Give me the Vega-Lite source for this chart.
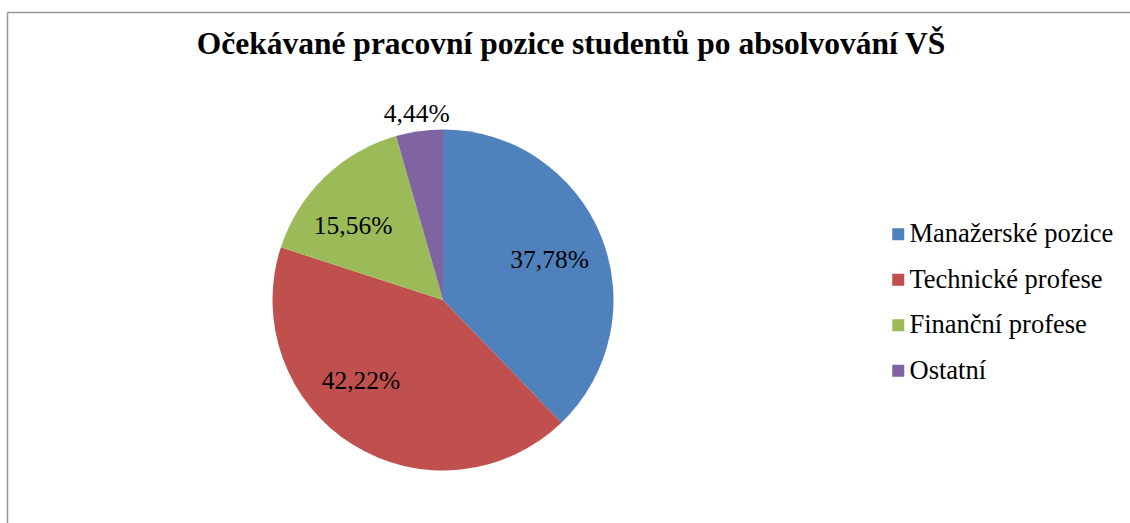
{
  "$schema": "https://vega.github.io/schema/vega-lite/v6.json",
  "autosize": {"type": "none"},
  "padding": {"left": 7, "top": 12, "right": 251, "bottom": -65},
  "width": 872,
  "height": 576,
  "background": "white",
  "title": {
    "text": "Očekávané pracovní pozice studentů po absolvování VŠ",
    "font": "Liberation Serif",
    "fontSize": 31.5,
    "fontWeight": "bold",
    "color": "black",
    "anchor": "middle",
    "baseline": "alphabetic",
    "offset": 0,
    "dx": 128,
    "dy": 76
  },
  "data": {
    "values": [
      {"pozice": "Manažerské pozice", "podil": 0.3778},
      {"pozice": "Technické profese", "podil": 0.4222},
      {"pozice": "Finanční profese", "podil": 0.1556},
      {"pozice": "Ostatní", "podil": 0.0444}
    ]
  },
  "transform": [{"window": [{"op": "row_number", "as": "poradi"}]}],
  "layer": [
    {
      "mark": {"type": "point", "opacity": 0},
      "encoding": {
        "x": {
          "datum": 0,
          "type": "quantitative",
          "scale": {"domain": [0, 1], "range": [0, 1123]},
          "axis": {"orient": "top", "title": null, "labels": false, "ticks": false, "grid": false, "domain": true, "domainColor": "#959595", "domainWidth": 1.5}
        },
        "y": {
          "datum": 0,
          "type": "quantitative",
          "scale": {"domain": [0, 1], "range": [0, 530]},
          "axis": {"orient": "left", "title": null, "labels": false, "ticks": false, "grid": false, "domain": true, "domainColor": "#959595", "domainWidth": 1.5}
        }
      }
    },
    {
      "mark": {"type": "arc", "outerRadius": 170.5, "stroke": null},
      "encoding": {
        "theta": {"field": "podil", "type": "quantitative", "stack": true},
        "order": {"field": "poradi", "type": "quantitative"},
        "color": {
          "field": "pozice",
          "type": "nominal",
          "scale": {
            "domain": ["Manažerské pozice", "Technické profese", "Finanční profese", "Ostatní"],
            "range": ["#4F81BD", "#C0504D", "#9BBB59", "#8064A2"]
          },
          "legend": {
            "orient": "none",
            "legendX": 878,
            "legendY": 209,
            "title": null,
            "symbolType": "square",
            "symbolSize": 144,
            "symbolStrokeWidth": 0,
            "labelFont": "Liberation Serif",
            "labelFontSize": 26.5,
            "labelColor": "black",
            "labelOffset": -2,
            "labelLimit": 400,
            "rowPadding": 18.5,
            "padding": 0
          }
        }
      }
    },
    {
      "mark": {"type": "text", "radius": 115, "dy": 3, "font": "Liberation Serif", "fontSize": 25.5, "color": "black"},
      "encoding": {
        "theta": {"field": "podil", "type": "quantitative", "stack": true},
        "order": {"field": "poradi", "type": "quantitative"},
        "text": {"field": "podil", "type": "quantitative", "format": ".2%"},
        "opacity": {"condition": {"test": "datum.pozice === 'Manažerské pozice'", "value": 1}, "value": 0}
      }
    },
    {
      "mark": {"type": "text", "radius": 115, "dx": -21, "dy": -17, "font": "Liberation Serif", "fontSize": 25.5, "color": "black"},
      "encoding": {
        "theta": {"field": "podil", "type": "quantitative", "stack": true},
        "order": {"field": "poradi", "type": "quantitative"},
        "text": {"field": "podil", "type": "quantitative", "format": ".2%"},
        "opacity": {"condition": {"test": "datum.pozice === 'Technické profese'", "value": 1}, "value": 0}
      }
    },
    {
      "mark": {"type": "text", "radius": 115, "dx": -10, "dy": 9, "font": "Liberation Serif", "fontSize": 25.5, "color": "black"},
      "encoding": {
        "theta": {"field": "podil", "type": "quantitative", "stack": true},
        "order": {"field": "poradi", "type": "quantitative"},
        "text": {"field": "podil", "type": "quantitative", "format": ".2%"},
        "opacity": {"condition": {"test": "datum.pozice === 'Finanční profese'", "value": 1}, "value": 0}
      }
    },
    {
      "mark": {"type": "text", "radius": 189, "dy": 1, "font": "Liberation Serif", "fontSize": 25.5, "color": "black"},
      "encoding": {
        "theta": {"field": "podil", "type": "quantitative", "stack": true},
        "order": {"field": "poradi", "type": "quantitative"},
        "text": {"field": "podil", "type": "quantitative", "format": ".2%"},
        "opacity": {"condition": {"test": "datum.pozice === 'Ostatní'", "value": 1}, "value": 0}
      }
    }
  ],
  "config": {
    "view": {"stroke": null},
    "locale": {"number": {"decimal": ",", "thousands": " ", "grouping": [3], "currency": ["", " Kč"]}}
  }
}
